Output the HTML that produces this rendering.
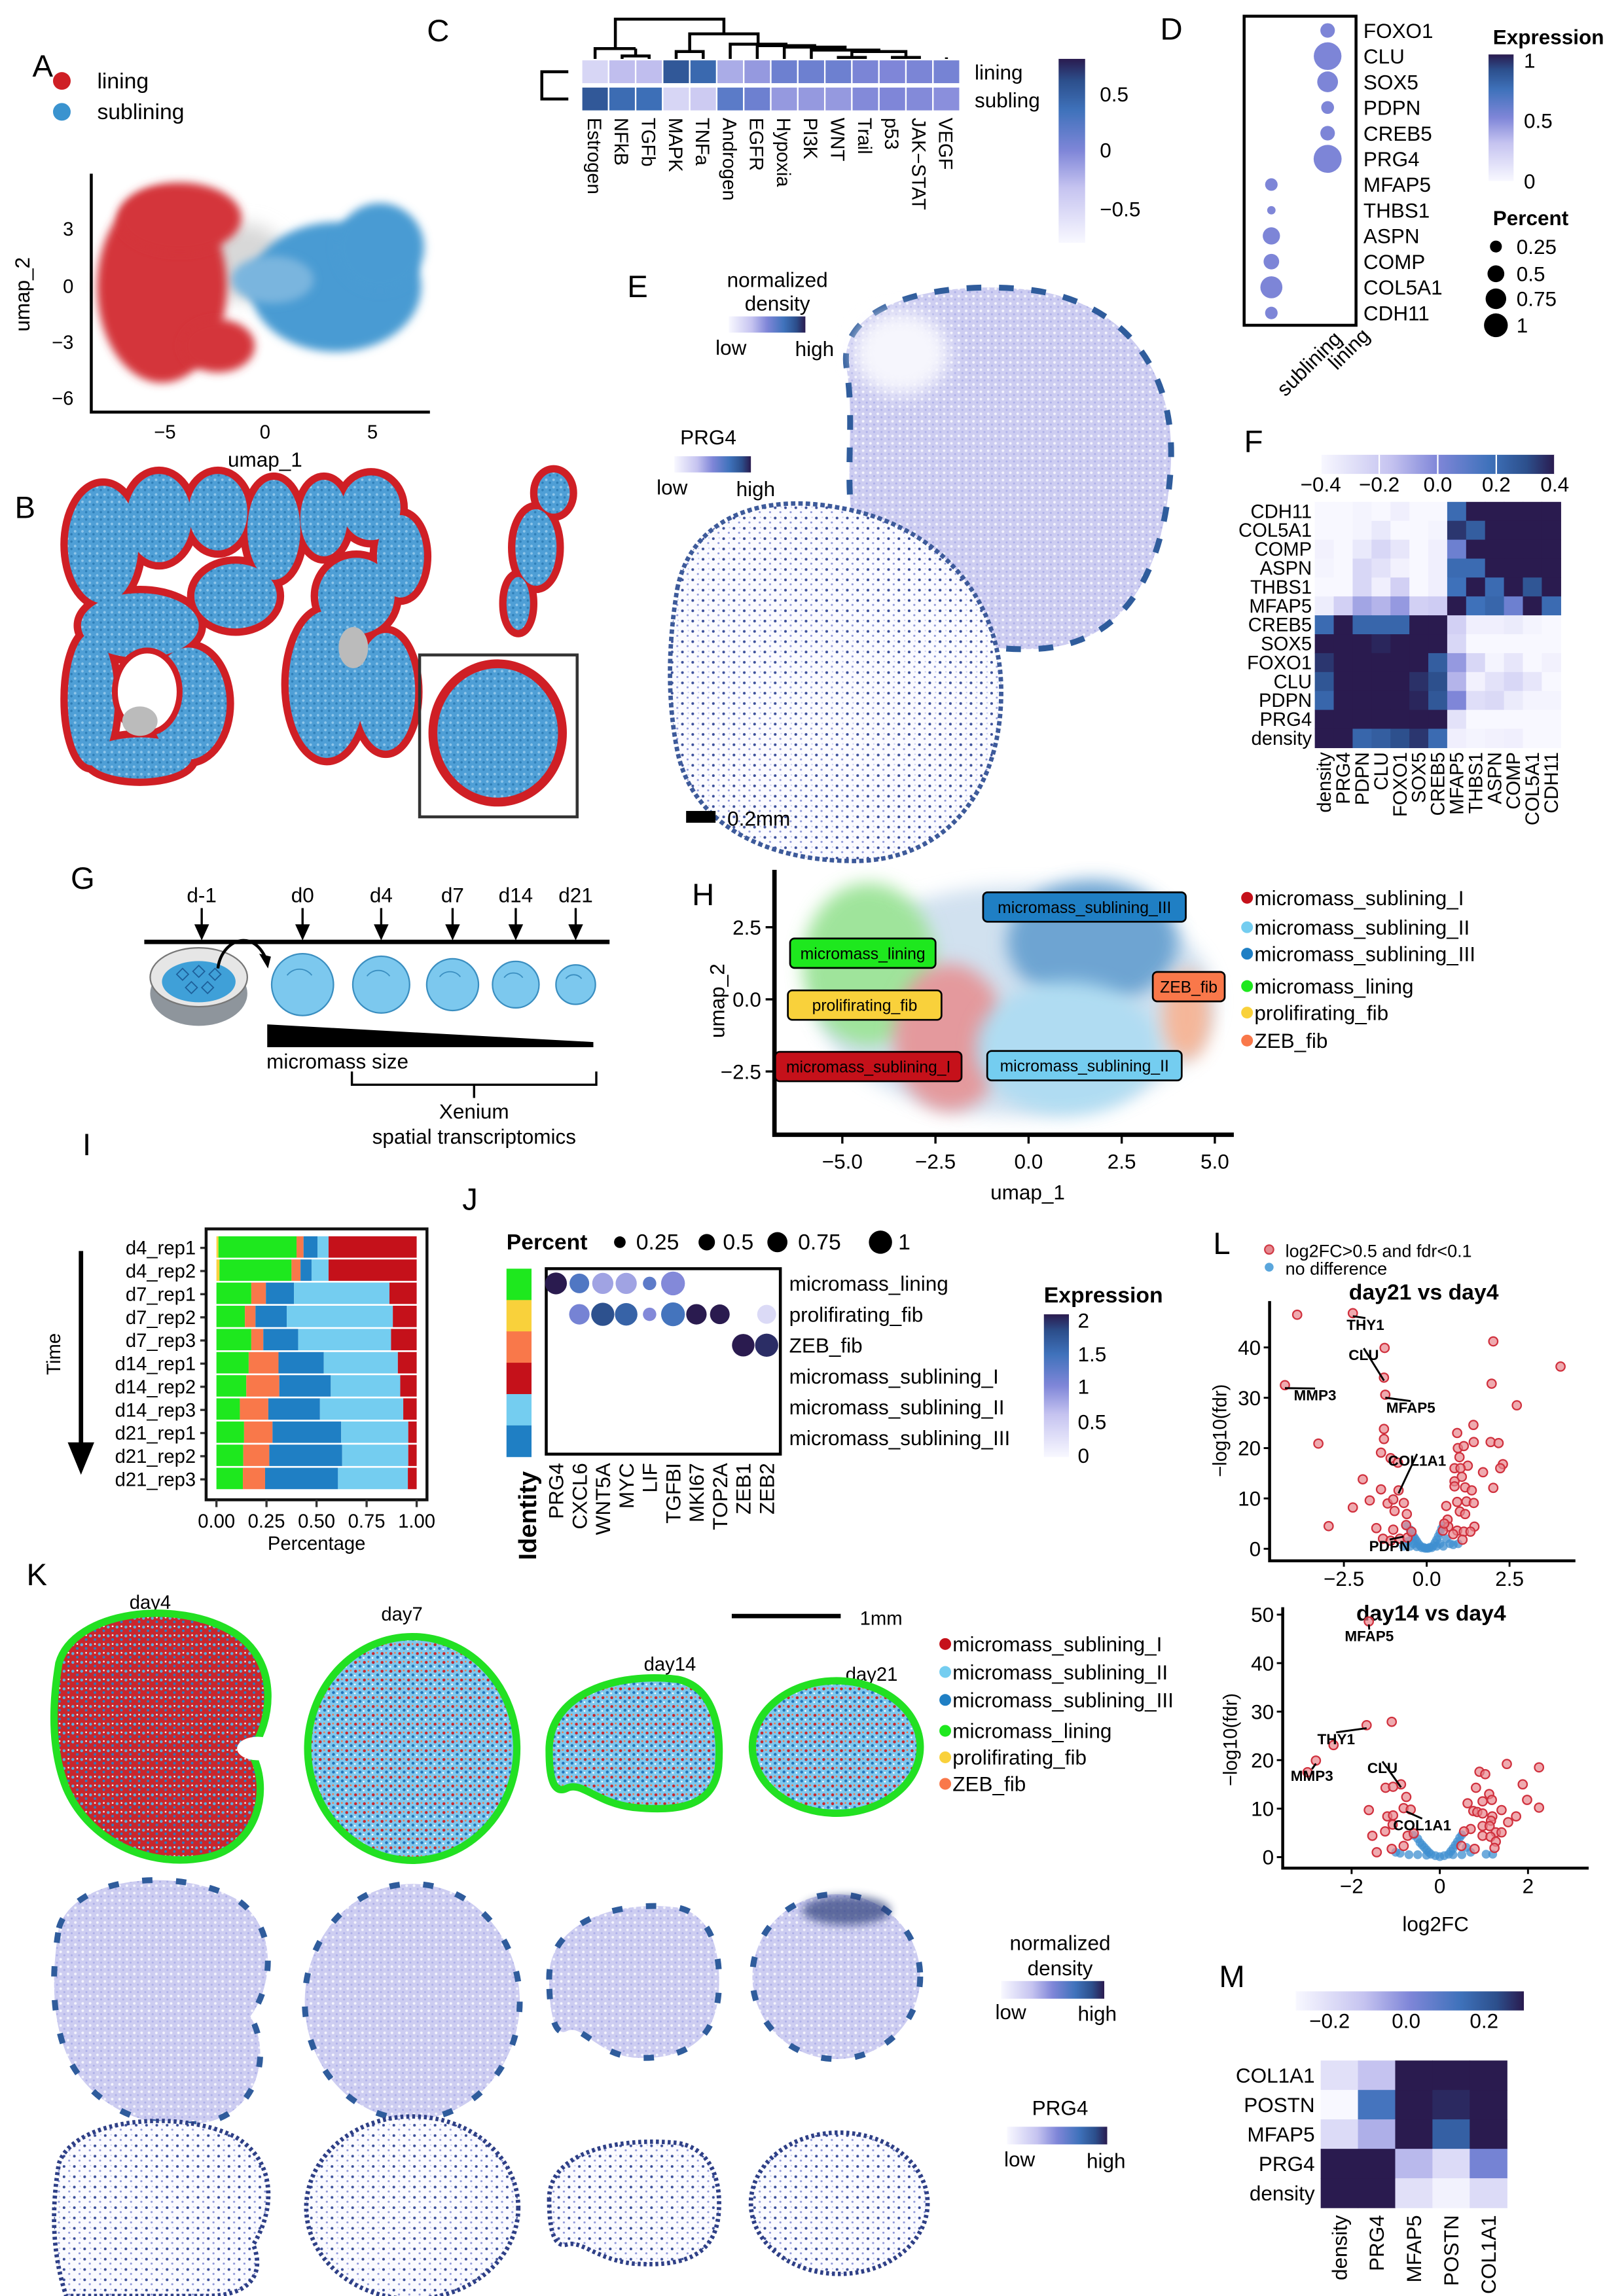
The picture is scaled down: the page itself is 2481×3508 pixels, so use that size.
<!DOCTYPE html>
<html><head><meta charset="utf-8"><title>Figure</title>
<style>
html,body{margin:0;padding:0;background:#fff}
svg{display:block;font-family:"Liberation Sans",Arial,sans-serif}
</style></head>
<body>
<svg id="fig" xmlns="http://www.w3.org/2000/svg" width="2481" height="3508" viewBox="0 0 1103 1560" preserveAspectRatio="none">
<defs>
  <filter id="blur6" x="-30%" y="-30%" width="160%" height="160%"><feGaussianBlur stdDeviation="6"/></filter>
  <filter id="blur3" x="-30%" y="-30%" width="160%" height="160%"><feGaussianBlur stdDeviation="3"/></filter>
  <pattern id="patBlue" width="5" height="5" patternUnits="userSpaceOnUse"><rect width="5" height="5" fill="#4f9fd6"/><circle cx="1" cy="1" r="0.9" fill="#8fc6ea"/><circle cx="3.5" cy="3" r="0.8" fill="#2f7fb8"/></pattern>
  <pattern id="patK4" width="6" height="6" patternUnits="userSpaceOnUse"><rect width="6" height="6" fill="#c9262c"/><circle cx="1.5" cy="1.5" r="1" fill="#5aaee0"/><circle cx="4.5" cy="4" r="0.9" fill="#2c7cc0"/><circle cx="4.5" cy="1" r="0.6" fill="#f5f5f5"/></pattern>
  <pattern id="patK" width="6" height="6" patternUnits="userSpaceOnUse"><rect width="6" height="6" fill="#7ec8ee"/><circle cx="1.5" cy="1.5" r="1" fill="#c9262c"/><circle cx="4.5" cy="4" r="1" fill="#2573b8"/><circle cx="4.2" cy="1" r="0.6" fill="#f47a4a"/><circle cx="1" cy="4.5" r="0.6" fill="#fff"/></pattern>
  <pattern id="patDens" width="5" height="5" patternUnits="userSpaceOnUse"><rect width="5" height="5" fill="#cdcdf1"/><circle cx="1.2" cy="1.2" r="0.9" fill="#f4f4fd"/><circle cx="3.7" cy="3.5" r="0.7" fill="#aeb0e8"/></pattern>
  <pattern id="patPRG" width="7" height="7" patternUnits="userSpaceOnUse"><rect width="7" height="7" fill="#fbfbff"/><circle cx="1.5" cy="2" r="0.9" fill="#3b4f9a"/><circle cx="5" cy="5" r="0.7" fill="#8d96d8"/><circle cx="5.5" cy="1.5" r="0.5" fill="#c9cdf0"/></pattern>
  <linearGradient id="gradV" x1="0" y1="1" x2="0" y2="0"><stop offset="0" stop-color="#f8f8ff"/><stop offset="0.3" stop-color="#c5c3f0"/><stop offset="0.5" stop-color="#7f86d8"/><stop offset="0.72" stop-color="#3f72bb"/><stop offset="0.88" stop-color="#2c4f8c"/><stop offset="1" stop-color="#2a1b4f"/></linearGradient>
  <linearGradient id="gradH" x1="0" y1="0" x2="1" y2="0"><stop offset="0" stop-color="#f8f8ff"/><stop offset="0.3" stop-color="#c5c3f0"/><stop offset="0.5" stop-color="#7f86d8"/><stop offset="0.72" stop-color="#3f72bb"/><stop offset="0.88" stop-color="#2c4f8c"/><stop offset="1" stop-color="#2a1b4f"/></linearGradient>
</defs>

<!-- ===== Panel A ===== -->
<g>
  <text x="22" y="52" font-size="21">A</text>
  <circle cx="42" cy="55" r="6" fill="#cf1f25"/>
  <text x="66" y="60" font-size="15">lining</text>
  <circle cx="42" cy="76" r="6" fill="#3a93cf"/>
  <text x="66" y="81" font-size="15">sublining</text>
  <g>
    <ellipse cx="165" cy="178" rx="30" ry="26" fill="#d8d8d8" filter="url(#blur6)"/>
    <ellipse cx="228" cy="195" rx="58" ry="44" fill="#4a9bd3" filter="url(#blur3)"/>
    <ellipse cx="258" cy="168" rx="30" ry="30" fill="#4a9bd3" filter="url(#blur3)"/>
    <ellipse cx="185" cy="190" rx="28" ry="16" fill="#7ab5de" filter="url(#blur3)"/>
    <ellipse cx="110" cy="195" rx="44" ry="65" fill="#d4343a" filter="url(#blur3)"/>
    <ellipse cx="122" cy="148" rx="42" ry="24" fill="#d4343a" filter="url(#blur3)"/>
    <ellipse cx="148" cy="235" rx="25" ry="18" fill="#d4343a" filter="url(#blur3)"/>
  </g>
  <path d="M62,118 V280 H292" fill="none" stroke="#000" stroke-width="2"/>
  <g font-size="13" text-anchor="end">
    <text x="50" y="160">3</text><text x="50" y="199">0</text><text x="50" y="237">−3</text><text x="50" y="275">−6</text>
  </g>
  <g font-size="13" text-anchor="middle">
    <text x="112" y="298">−5</text><text x="180" y="298">0</text><text x="253" y="298">5</text>
  </g>
  <text x="180" y="317" font-size="14" text-anchor="middle">umap_1</text>
  <text transform="translate(20,200) rotate(-90)" font-size="14" text-anchor="middle">umap_2</text>
</g>

<!-- ===== Panel B ===== -->
<g>
  <text x="10" y="352" font-size="21">B</text>
  <g>
    <g stroke="#cf1f25" stroke-width="10" fill="#cf1f25">
      <ellipse cx="70" cy="370" rx="24" ry="40"/><ellipse cx="108" cy="352" rx="22" ry="30"/><ellipse cx="148" cy="348" rx="20" ry="26"/><ellipse cx="186" cy="360" rx="18" ry="34"/><ellipse cx="160" cy="405" rx="28" ry="22"/><ellipse cx="95" cy="425" rx="40" ry="22"/><ellipse cx="62" cy="475" rx="16" ry="45"/><ellipse cx="128" cy="478" rx="26" ry="38"/><ellipse cx="95" cy="515" rx="35" ry="14"/>
      <ellipse cx="220" cy="352" rx="16" ry="26"/><ellipse cx="252" cy="345" rx="20" ry="22"/><ellipse cx="272" cy="378" rx="16" ry="28"/><ellipse cx="242" cy="405" rx="26" ry="26"/><ellipse cx="222" cy="465" rx="26" ry="50"/><ellipse cx="262" cy="470" rx="20" ry="40"/>
      <ellipse cx="376" cy="335" rx="11" ry="14"/><ellipse cx="364" cy="372" rx="14" ry="26"/><ellipse cx="352" cy="410" rx="8" ry="18"/>
    </g>
    <g fill="url(#patBlue)">
      <ellipse cx="70" cy="370" rx="24" ry="40"/><ellipse cx="108" cy="352" rx="22" ry="30"/><ellipse cx="148" cy="348" rx="20" ry="26"/><ellipse cx="186" cy="360" rx="18" ry="34"/><ellipse cx="160" cy="405" rx="28" ry="22"/><ellipse cx="95" cy="425" rx="40" ry="22"/><ellipse cx="62" cy="475" rx="16" ry="45"/><ellipse cx="128" cy="478" rx="26" ry="38"/><ellipse cx="95" cy="515" rx="35" ry="14"/>
      <ellipse cx="220" cy="352" rx="16" ry="26"/><ellipse cx="252" cy="345" rx="20" ry="22"/><ellipse cx="272" cy="378" rx="16" ry="28"/><ellipse cx="242" cy="405" rx="26" ry="26"/><ellipse cx="222" cy="465" rx="26" ry="50"/><ellipse cx="262" cy="470" rx="20" ry="40"/>
      <ellipse cx="376" cy="335" rx="11" ry="14"/><ellipse cx="364" cy="372" rx="14" ry="26"/><ellipse cx="352" cy="410" rx="8" ry="18"/>
    </g>
    <ellipse cx="100" cy="470" rx="22" ry="28" fill="#fff" stroke="#cf1f25" stroke-width="4"/>
    <ellipse cx="95" cy="490" rx="12" ry="10" fill="#bbb"/>
    <ellipse cx="240" cy="440" rx="10" ry="14" fill="#bbb"/>
  </g>
  <rect x="285" y="445" width="107" height="110" fill="none" stroke="#333" stroke-width="2"/>
  <ellipse cx="338" cy="498" rx="44" ry="47" fill="url(#patBlue)" stroke="#cf1f25" stroke-width="6"/>
</g>

<!-- ===== Panel C ===== -->
<g id="panelC">
  <text x="290" y="28" font-size="21">C</text>
  <text x="662" y="54" font-size="14">lining</text>
  <text x="662" y="73" font-size="14">subling</text>
  <rect x="719" y="40" width="18" height="125" fill="url(#gradV)"/>
  <g font-size="14">
    <text x="747" y="69">0.5</text><text x="747" y="107">0</text><text x="747" y="147">−0.5</text>
  </g>
  <path d="M386,48.75 H368 V67.25 H386" fill="none" stroke="#000" stroke-width="2"/>
</g>

<!-- ===== Panel D ===== -->
<g id="panelD">
  <text x="788" y="27" font-size="21">D</text>
  <rect x="845" y="11" width="76" height="210" fill="none" stroke="#000" stroke-width="2"/>
  <text x="1014" y="30" font-size="14" font-weight="bold">Expression</text>
  <rect x="1011" y="37" width="17" height="86" fill="url(#gradV)"/>
  <g font-size="14"><text x="1035" y="46">1</text><text x="1035" y="87">0.5</text><text x="1035" y="128">0</text></g>
  <text x="1014" y="153" font-size="14" font-weight="bold">Percent</text>
  <text transform="translate(873,270) rotate(-45)" font-size="14">sublining</text>
  <text transform="translate(908,252) rotate(-45)" font-size="14">lining</text>
</g>

<!-- ===== Panel E ===== -->
<g>
  <text x="426" y="202" font-size="21">E</text>
  <text x="528" y="195" font-size="14" text-anchor="middle">normalized</text>
  <text x="528" y="211" font-size="14" text-anchor="middle">density</text>
  <rect x="495" y="215" width="52" height="11" fill="url(#gradH)"/>
  <text x="486" y="241" font-size="14">low</text>
  <text x="540" y="242" font-size="14">high</text>
  <path d="M575,250 C568,205 640,190 700,197 C762,205 800,250 795,320 C790,392 762,440 700,441 C640,443 590,412 580,362 C573,322 581,290 575,250 Z" fill="url(#patDens)" stroke="#2f5c9c" stroke-width="4" stroke-dasharray="10 12"/>
  <ellipse cx="612" cy="240" rx="32" ry="28" fill="#f6f6fd" filter="url(#blur6)"/>
  <text x="462" y="302" font-size="14">PRG4</text>
  <rect x="458" y="310" width="52" height="11" fill="url(#gradH)"/>
  <text x="446" y="336" font-size="14">low</text>
  <text x="500" y="337" font-size="14">high</text>
  <path d="M460,400 C470,350 520,335 570,345 C630,355 680,400 680,470 C680,540 640,585 580,585 C520,585 470,560 460,510 C452,470 455,430 460,400 Z" fill="url(#patPRG)" stroke="#3d5a9a" stroke-width="3" stroke-dasharray="3 2"/>
  <rect x="466" y="551" width="20" height="8" fill="#000"/>
  <text x="494" y="561" font-size="14">0.2mm</text>
</g>

<!-- ===== Panel F ===== -->
<g id="panelF">
  <text x="845" y="307" font-size="21">F</text>
  <rect x="897" y="309" width="159" height="13" fill="url(#gradH)"/>
</g>

<!-- ===== Panel G ===== -->
<g>
  <text x="48" y="604" font-size="21">G</text>
  <line x1="98" y1="640" x2="414" y2="640" stroke="#000" stroke-width="3"/>
  <g id="gArrows"></g>
  <g>
    <ellipse cx="135" cy="675" rx="33" ry="22" fill="#8e959c"/>
    <ellipse cx="135" cy="664" rx="33" ry="20" fill="#e6e6e6" stroke="#777" stroke-width="1"/>
    <ellipse cx="135" cy="667" rx="25" ry="14" fill="#3fa0d8"/>
    <g fill="none" stroke="#1d5f9a" stroke-width="0.8">
      <path d="M120,662 l4,-4 l4,4 l-4,4z"/><path d="M131,660 l4,-4 l4,4 l-4,4z"/><path d="M142,662 l4,-4 l4,4 l-4,4z"/><path d="M126,671 l4,-4 l4,4 l-4,4z"/><path d="M137,671 l4,-4 l4,4 l-4,4z"/>
    </g>
  </g>
  <path d="M148,658 C150,640 170,630 180,650" fill="none" stroke="#000" stroke-width="2"/>
  <path d="M176,648 l8,2 l-2,8 z" fill="#000"/>
  <g id="gMicro"></g>
  <path d="M181.5,696 L403,708 L403,711.5 L181.5,711.5 Z" fill="#000"/>
  <text x="181" y="726" font-size="14">micromass size</text>
  <path d="M239,728 V737 H405 V728 M322,737 V746" fill="none" stroke="#000" stroke-width="1.5"/>
  <text x="322" y="760" font-size="14" text-anchor="middle">Xenium</text>
  <text x="322" y="777" font-size="14" text-anchor="middle">spatial transcriptomics</text>
</g>

<!-- ===== Panel H ===== -->
<g id="panelH">
  <text x="470" y="615" font-size="21">H</text>
  <g opacity="0.85">
    <ellipse cx="690" cy="680" rx="135" ry="78" fill="#c9dced" filter="url(#blur6)"/>
    <ellipse cx="590" cy="655" rx="45" ry="55" fill="#8fe08a" filter="url(#blur6)"/>
    <ellipse cx="645" cy="705" rx="38" ry="50" fill="#e0888c" filter="url(#blur6)"/>
    <ellipse cx="742" cy="640" rx="58" ry="42" fill="#5595cb" filter="url(#blur6)"/>
    <ellipse cx="725" cy="712" rx="62" ry="45" fill="#a3d7f0" filter="url(#blur6)"/>
    <ellipse cx="806" cy="690" rx="16" ry="30" fill="#f4aa88" filter="url(#blur6)"/>
  </g>
  <path d="M526,591 V771 H838" fill="none" stroke="#000" stroke-width="3"/>
  <text x="698" y="815" font-size="14" text-anchor="middle">umap_1</text>
  <text transform="translate(492,680) rotate(-90)" font-size="14" text-anchor="middle">umap_2</text>
</g>

<!-- ===== Panel I ===== -->
<g id="panelI">
  <text x="56" y="785" font-size="21">I</text>
  <line x1="55" y1="850" x2="55" y2="985" stroke="#000" stroke-width="3"/>
  <path d="M46,980 L64,980 L55,1002 Z" fill="#000"/>
  <text transform="translate(41,920) rotate(-90)" font-size="13" text-anchor="middle">Time</text>
  <text x="215" y="1053" font-size="13" text-anchor="middle">Percentage</text>
</g>

<!-- ===== Panel J ===== -->
<g id="panelJ">
  <text x="314" y="822" font-size="21">J</text>
  <text x="344" y="849" font-size="15" font-weight="bold">Percent</text>
  <rect x="371" y="862" width="159" height="126" fill="none" stroke="#000" stroke-width="2"/>
  <text transform="translate(364,1060) rotate(-90)" font-size="17" font-weight="bold">Identity</text>
  <text x="709" y="885" font-size="15" font-weight="bold">Expression</text>
  <rect x="709" y="893" width="17" height="97" fill="url(#gradV)"/>
  <g font-size="14"><text x="732" y="902">2</text><text x="732" y="925">1.5</text><text x="732" y="947">1</text><text x="732" y="971">0.5</text><text x="732" y="994">0</text></g>
</g>

<!-- ===== Panel L ===== -->
<g id="panelL">
  <text x="824" y="852" font-size="21">L</text>
  <circle cx="862" cy="849" r="3" fill="#e58a90" stroke="#d03a45"/>
  <text x="873" y="854" font-size="12">log2FC&gt;0.5 and fdr&lt;0.1</text>
  <circle cx="862" cy="861" r="3" fill="#5aa6dc"/>
  <text x="873" y="866" font-size="12">no difference</text>
  <text x="967" y="883" font-size="15" font-weight="bold" text-anchor="middle">day21 vs day4</text>
  <text x="972" y="1101" font-size="15" font-weight="bold" text-anchor="middle">day14 vs day4</text>
  <text transform="translate(833,972) rotate(-90)" font-size="13" text-anchor="middle">−log10(fdr)</text>
  <text transform="translate(840,1182) rotate(-90)" font-size="13" text-anchor="middle">−log10(fdr)</text>
  <text x="975" y="1312" font-size="14" text-anchor="middle">log2FC</text>
</g>

<!-- ===== Panel K ===== -->
<g>
  <text x="18" y="1077" font-size="21">K</text>
  <text x="102" y="1093" font-size="13" text-anchor="middle">day4</text>
  <text x="273" y="1101" font-size="13" text-anchor="middle">day7</text>
  <text x="455" y="1135" font-size="13" text-anchor="middle">day14</text>
  <text x="592" y="1142" font-size="13" text-anchor="middle">day21</text>
  <line x1="497" y1="1098" x2="571" y2="1098" stroke="#000" stroke-width="3"/>
  <text x="584" y="1104" font-size="13">1mm</text>
  <g stroke="#22e022" stroke-width="5">
    <path d="M40,1130 C50,1095 120,1085 160,1110 C190,1130 185,1170 170,1190 C185,1215 175,1255 140,1262 C100,1270 60,1250 45,1215 C35,1190 35,1160 40,1130 Z" fill="url(#patK4)"/>
    <ellipse cx="280" cy="1188" rx="71" ry="76" fill="url(#patK)"/>
    <path d="M373,1190 C372,1150 420,1136 460,1141 C485,1146 490,1175 488,1200 C485,1228 460,1231 430,1228 C405,1225 395,1210 385,1215 C375,1220 373,1205 373,1190 Z" fill="url(#patK)"/>
    <ellipse cx="568" cy="1187" rx="57" ry="45" fill="url(#patK)"/>
  </g>
  <ellipse cx="175" cy="1188" rx="14" ry="8" fill="#fff"/>
  <g stroke="#2f5c9c" stroke-width="4" stroke-dasharray="7 16" fill="url(#patDens)">
    <path d="M40,1310 C50,1275 120,1268 160,1290 C190,1310 185,1350 170,1370 C185,1395 175,1435 140,1442 C100,1450 60,1430 45,1395 C35,1370 35,1340 40,1310 Z"/>
    <ellipse cx="280" cy="1360" rx="73" ry="80"/>
    <path d="M373,1345 C372,1305 420,1291 460,1296 C485,1301 490,1330 488,1355 C485,1390 460,1400 430,1398 C405,1395 395,1375 385,1380 C375,1385 373,1360 373,1345 Z"/>
    <ellipse cx="568" cy="1343" rx="57" ry="56"/>
  </g>
  <ellipse cx="575" cy="1298" rx="30" ry="10" fill="#2d3f7c" opacity="0.7" filter="url(#blur3)"/>
  <g stroke="#2e3f86" stroke-width="3" stroke-dasharray="2 2" fill="url(#patPRG)">
    <path d="M40,1470 C50,1440 120,1432 160,1452 C190,1470 185,1505 172,1525 C180,1545 170,1560 140,1560 L45,1560 C35,1530 35,1500 40,1470 Z"/>
    <ellipse cx="280" cy="1500" rx="72" ry="62"/>
    <path d="M373,1495 C372,1462 420,1452 460,1456 C485,1460 490,1485 488,1505 C485,1535 460,1540 430,1538 C405,1535 395,1522 385,1525 C375,1528 373,1510 373,1495 Z"/>
    <ellipse cx="570" cy="1497" rx="60" ry="48"/>
  </g>
  <g id="kLegend"></g>
  <text x="720" y="1325" font-size="14" text-anchor="middle">normalized</text>
  <text x="720" y="1342" font-size="14" text-anchor="middle">density</text>
  <rect x="680" y="1346" width="70" height="12" fill="url(#gradH)"/>
  <text x="676" y="1372" font-size="14">low</text>
  <text x="732" y="1373" font-size="14">high</text>
  <text x="720" y="1437" font-size="14" text-anchor="middle">PRG4</text>
  <rect x="684" y="1445" width="68" height="12" fill="url(#gradH)"/>
  <text x="682" y="1472" font-size="14">low</text>
  <text x="738" y="1473" font-size="14">high</text>
</g>

<!-- ===== Panel M ===== -->
<g id="panelM">
  <text x="828" y="1350" font-size="21">M</text>
  <rect x="880" y="1353" width="155" height="13" fill="url(#gradH)"/>
  <g font-size="14" text-anchor="middle"><text x="903" y="1378">−0.2</text><text x="955" y="1378">0.0</text><text x="1008" y="1378">0.2</text></g>
</g>
</svg>

<script>
// ---------- data ----------
const cPathways=['Estrogen','NFkB','TGFb','MAPK','TNFa','Androgen','EGFR','Hypoxia','PI3K','WNT','Trail','p53','JAK−STAT','VEGF'];
const cLining=[-0.5,-0.3,-0.3,0.55,0.42,-0.2,-0.1,0.1,0.1,0.1,0.02,0.0,0.02,0.05];
const cSubling=[0.55,0.4,0.38,-0.5,-0.4,0.2,0.1,-0.1,-0.1,-0.1,-0.02,0.0,-0.02,-0.05];

const dGenes=['FOXO1','CLU','SOX5','PDPN','CREB5','PRG4','MFAP5','THBS1','ASPN','COMP','COL5A1','CDH11'];
const dGroups=['sublining','lining'];
const dPctSublining=[0,0,0,0,0,0,0.2,0.09,0.38,0.31,0.62,0.2];
const dPctLining=[0.27,0.98,0.55,0.21,0.27,1.0,0,0,0,0,0,0];
const dExprSublining=[0,0,0,0,0,0,0.52,0.5,0.52,0.52,0.52,0.52];
const dExprLining=[0.52,0.52,0.52,0.52,0.52,0.52,0,0,0,0,0,0];
const dLegendPct=[0.25,0.5,0.75,1];

const fGenes=['density','PRG4','PDPN','CLU','FOXO1','SOX5','CREB5','MFAP5','THBS1','ASPN','COMP','COL5A1','CDH11'];
const fRowsTopDown=['CDH11','COL5A1','COMP','ASPN','THBS1','MFAP5','CREB5','SOX5','FOXO1','CLU','PDPN','PRG4','density'];
const fCorr=[
[-.4,-.4,-.38,-.4,-.36,-.4,-.4,.2,.4,.4,.4,.4,.4],
[-.4,-.4,-.38,-.33,-.4,-.4,-.38,.35,.25,.4,.4,.4,.4],
[-.37,-.4,-.33,-.25,-.32,-.4,-.36,.05,.4,.4,.4,.4,.4],
[-.38,-.4,-.25,-.3,-.37,-.4,-.36,.2,.2,.4,.4,.4,.4],
[-.4,-.4,-.25,-.36,-.22,-.4,-.36,.18,.4,.2,.4,.28,.4],
[-.35,-.22,-.08,-.12,-.05,-.22,-.2,.4,.18,.22,.05,.4,.2],
[.2,.4,.22,.22,.22,.4,.4,-.22,-.36,-.36,-.34,-.38,-.4],
[.4,.4,.4,.38,.4,.4,.4,-.25,-.4,-.4,-.4,-.4,-.4],
[.35,.4,.4,.4,.4,.4,.25,-.05,-.25,-.38,-.32,-.4,-.37],
[.28,.4,.4,.4,.4,.36,.3,-.12,-.37,-.3,-.25,-.32,-.4],
[.22,.4,.4,.4,.4,.38,.27,.0,-.28,-.26,-.34,-.38,-.38],
[.4,.4,.4,.4,.4,.4,.4,-.3,-.4,-.4,-.4,-.4,-.4],
[.4,.4,.22,.25,.3,.35,.2,-.36,-.38,-.37,-.36,-.4,-.4]];
const fTicks=[-0.4,-0.2,0.0,0.2,0.4];

const gTimepoints=['d-1','d0','d4','d7','d14','d21'];
const gMicroRadius=[21,19.3,17.6,15.8,13.4];

const hXTicks=[-5.0,-2.5,0.0,2.5,5.0];
const hYTicks=[2.5,0.0,-2.5];
const hClusters=['micromass_sublining_I','micromass_sublining_II','micromass_sublining_III','micromass_lining','prolifirating_fib','ZEB_fib'];
const hClusterColors=['#c5111a','#74cdf0','#1f7fc4','#1ee81e','#f9d13b','#f9784a'];
const hLabelX=[-4.3,1.5,1.5,-4.45,-4.4,4.3];
const hLabelY=[-2.33,-2.3,3.2,1.6,-0.2,0.44];

const iSamples=['d4_rep1','d4_rep2','d7_rep1','d7_rep2','d7_rep3','d14_rep1','d14_rep2','d14_rep3','d21_rep1','d21_rep2','d21_rep3'];
const iProlif=[0.01,0.015,0,0,0,0,0,0,0,0,0];
const iLining=[0.39,0.36,0.174,0.142,0.174,0.161,0.149,0.117,0.138,0.134,0.132];
const iZeb=[0.035,0.045,0.073,0.053,0.06,0.149,0.165,0.142,0.142,0.13,0.111];
const iSubIII=[0.07,0.055,0.14,0.156,0.174,0.226,0.257,0.258,0.343,0.364,0.364];
const iSubII=[0.055,0.085,0.477,0.53,0.464,0.37,0.347,0.416,0.335,0.33,0.349];
const iSubI=[0.44,0.44,0.136,0.119,0.128,0.094,0.082,0.067,0.042,0.042,0.044];
const iXTicks=[0,0.25,0.5,0.75,1.0];
const iXTickLabels=['0.00','0.25','0.50','0.75','1.00'];

const jGenes=['PRG4','CXCL6','WNT5A','MYC','LIF','TGFBI','MKI67','TOP2A','ZEB1','ZEB2'];
const jIdent=['micromass_lining','prolifirating_fib','ZEB_fib','micromass_sublining_I','micromass_sublining_II','micromass_sublining_III'];
const jIdentColors=['#1ee81e','#f9d13b','#f9784a','#c5111a','#74cdf0','#1f7fc4'];
const jPct=[
[0.8,0.65,0.75,0.75,0.3,0.95,0,0,0,0],
[0,0.7,0.9,0.85,0.3,0.95,0.7,0.65,0,0.6],
[0,0,0,0,0,0,0,0,0.85,0.9],
[0,0,0,0,0,0,0,0,0,0],[0,0,0,0,0,0,0,0,0,0],[0,0,0,0,0,0,0,0,0,0]];
const jExpr=[
[2.0,1.2,0.6,0.6,1.1,0.8,0,0,0,0],
[0,0.9,1.7,1.5,0.8,1.3,2.0,2.0,0,0.05],
[0,0,0,0,0,0,0,0,2.0,1.9],
[0,0,0,0,0,0,0,0,0,0],[0,0,0,0,0,0,0,0,0,0],[0,0,0,0,0,0,0,0,0,0]];
const jLegendPct=[0.25,0.5,0.75,1];

const l21SigX=[-3.91,-2.23,-1.27,-1.29,-4.28,-1.25,-3.27,-1.29,-1.29,-1.38,-1.09,-0.87,-1.93,-1.38,-0.85,-1.72,-2.23,-2.96,-1.18,-1.01,-0.69,-0.97,-0.6,-1.52,-1.01,-1.32,-0.62,-0.81,-1.09,-0.58,-0.46,2.01,4.04,1.96,2.72,1.41,0.92,1.42,1.93,2.17,0.94,1.12,0.99,0.84,1.24,1.02,2.3,2.22,1.7,1.06,0.84,0.84,1.16,1.36,2.01,0.92,1.2,1.42,1.0,0.59,1.16,0.63,1.44,0.92,1.12,1.32,0.65,0.49,0.8,1.08,0.53];
const l21SigY=[46.5,46.8,39.9,34,32.5,30.6,20.9,23.8,21.8,19.1,18,17.1,13.8,11.8,11.6,9.6,8.2,4.5,9,9.8,9.1,7.5,6.9,4.1,3.8,2,4.7,2,1.6,2.2,3.4,41.2,36.2,32.8,28.5,24.6,23,21.2,21.2,21,20,20.4,18.2,16,16.5,16,16.8,16,15.2,14.3,13.4,12.4,12.2,11.6,12.1,9.3,9.4,9.1,7.4,8.5,6.9,5.8,4.4,3.6,3.4,3.4,4.4,3.6,2.9,1.8,5];
const l21NsX=[-0.6,-0.5,-0.45,-0.4,-0.35,-0.3,-0.25,-0.2,-0.1,0,0.1,0.2,0.25,0.3,0.35,0.4,0.45,0.5,0.3,-0.3,0.5,-0.5,0.7,0.8,0.95,-0.7,0.6,-0.55,-0.15,0.15,-0.4,0.4,0.05,-0.05];
const l21NsY=[4.5,3.8,3,2.5,2,1.5,1,0.6,0.3,0.1,0.3,0.6,1.2,1.8,2.5,3.2,4,4.6,0.5,0.4,0.5,0.5,1,0.8,1,0.5,2,1.5,0.2,0.2,1,1,0.1,0.1];
const l21Labels=['THY1','CLU','MMP3','MFAP5','COL1A1','PDPN'];
const l21LabelX=[-1.85,-1.9,-3.37,-0.48,-0.29,-1.12];
const l21LabelY=[43.5,37.5,29.5,27,16.5,-0.5];
const l21PtX=[-2.23,-1.29,-4.28,-1.25,-0.85,-0.7];
const l21PtY=[46.8,34,32.5,30.6,11.6,3];

const l14SigX=[-1.61,-1.66,-1.09,-2.41,-2.81,-3.0,-0.88,-1.23,-1.06,-0.76,-1.61,-0.82,-0.66,-1.19,-1.06,-1.07,-1.24,-1.53,-0.73,-0.59,-1.43,-1.09,-0.82,1.52,2.25,0.9,1.03,1.88,0.82,1.12,1.18,0.97,1.98,0.63,2.25,0.76,0.85,0.97,1.4,1.19,1.73,1.16,1.55,0.97,1.13,1.27,1.4,0.97,1.15,0.7,0.55,1.27,1.24,0.79,0.49];
const l14SigY=[48.6,27.2,27.9,23.1,19.9,17.5,15,14.3,14.5,12.4,9.7,10.1,9.8,8.4,8.6,6.7,5.3,4.4,4.4,4.9,1,1.7,2.3,19.2,18.5,17.6,17.1,15,14.3,13,11.8,11.5,11.8,11.1,10.2,9.5,9.3,9,9.7,8.4,8.4,7.5,7.2,6.4,6.4,5.1,5.1,4.4,4.2,5.8,5.3,3.2,1.9,1.7,2.3];
const l14NsX=[-0.6,-0.5,-0.45,-0.4,-0.35,-0.3,-0.25,-0.2,-0.1,0,0.1,0.2,0.25,0.3,0.35,0.4,0.45,0.5,0.3,-0.3,0.5,-0.5,0.7,-0.7,1.05,1.2,-0.9,0.6,-1.0];
const l14NsY=[4.5,3.8,3,2.5,2,1.5,1,0.6,0.3,0.1,0.3,0.6,1.2,1.8,2.5,3.2,4,4.6,0.5,0.4,0.5,0.5,1,0.5,0.6,0.6,0.8,2,1];
const l14Labels=['MFAP5','THY1','MMP3','CLU','COL1A1'];
const l14LabelX=[-1.6,-2.35,-2.9,-1.3,-0.4];
const l14LabelY=[44.5,23.3,15.7,17.3,5.5];
const l14PtX=[-1.61,-1.66,-2.81,-0.88,-0.76];
const l14PtY=[48.6,27.2,19.9,15,10];

const kLegendLabels=['micromass_sublining_I','micromass_sublining_II','micromass_sublining_III','micromass_lining','prolifirating_fib','ZEB_fib'];
const kLegendColors=['#c5111a','#74cdf0','#1f7fc4','#1ee81e','#f9d13b','#f9784a'];

const mGenes=['density','PRG4','MFAP5','POSTN','COL1A1'];
const mRowsTopDown=['COL1A1','POSTN','MFAP5','PRG4','density'];
const mCorr=[
[-0.22,-0.12,0.3,0.3,0.3],
[-0.3,0.12,0.3,0.28,0.3],
[-0.2,-0.08,0.3,0.18,0.3],
[0.3,0.3,-0.1,-0.2,0.02],
[0.3,0.3,-0.22,-0.28,-0.2]];

// ---------- helpers ----------
const NS='http://www.w3.org/2000/svg';
function el(tag,parent){const e=document.createElementNS(NS,tag);parent.appendChild(e);return e;}
function sa(e,o){for(const k in o)e.setAttribute(k,o[k]);return e;}
const stops=[[0,[248,248,255]],[0.3,[197,195,240]],[0.5,[127,134,216]],[0.72,[63,114,187]],[0.88,[44,79,140]],[1,[42,27,79]]];
function pal(t){t=Math.max(0,Math.min(1,t));for(let i=1;i<stops.length;i++){if(t<=stops[i][0]){const a=stops[i-1],b=stops[i];const f=(t-a[0])/(b[0]-a[0]);const c=a[1].map((v,k)=>Math.round(v+(b[1][k]-v)*f));return 'rgb('+c.join(',')+')';}}return 'rgb(42,27,79)';}
function txt(parent,x,y,s,size,extra){const t=el('text',parent);sa(t,{x:x,y:y,'font-size':size});if(extra)sa(t,extra);t.textContent=s;return t;}

// ---------- Panel C ----------
(function(){
  const g=document.getElementById('panelC');
  const x0=395,w=(652-395)/cPathways.length;
  const cx=i=>x0+w*(i+0.5);
  const col=v=>pal((v+0.81)/1.62);
  const rows=[cLining,cSubling],ys=[40.5,59];
  rows.forEach((vals,r)=>vals.forEach((v,i)=>{
    const c=el('rect',g);sa(c,{x:x0+w*i,y:ys[r],width:w,height:16.5,fill:col(v),stroke:'#fff','stroke-width':1});
    
    
  }));
  cPathways.forEach((p,i)=>{
    const t=txt(g,0,0,p,13,{transform:'translate('+(cx(i)-5)+',80) rotate(90)'});
    
    
  });
  const d=el('path',g);
  const m12=(cx(1)+cx(2))/2, mA=(cx(0)+m12)/2, mB=(cx(3)+cx(4))/2;
  const mC1=(cx(9)+cx(10))/2, mC2=(cx(11)+cx(12))/2, mC3=(mC1+mC2)/2, mC4=(cx(8)+mC3)/2, mC5=(cx(7)+mC4)/2, mC6=(cx(6)+mC5)/2, mC=(cx(5)+mC6)/2, mBC=(mB+mC)/2;
  const path='M'+cx(1)+',40 V38 H'+cx(2)+' V40 M'+m12+',38 V33 M'+cx(0)+',40 V33 H'+m12+
   ' M'+cx(3)+',40 V35 H'+cx(4)+' V40'+
   ' M'+cx(9)+',40 V39 H'+cx(10)+' V40 M'+cx(11)+',40 V39 H'+cx(12)+' V40 M'+mC1+',39 V35 H'+mC2+' V39 M'+cx(13)+',40 V39'+
   ' M'+cx(8)+',40 V34 H'+mC3+' V35 M'+cx(7)+',40 V32 H'+mC4+' V34 M'+cx(6)+',40 V31 H'+mC5+' V32 M'+cx(5)+',40 V30 H'+mC6+' V31'+
   ' M'+mB+',35 V23 H'+mC+' V30 M'+mA+',33 V13 H'+mBC+' V23';
  sa(d,{d:path,fill:'none',stroke:'#000','stroke-width':2});
  
  
})();

// ---------- Panel D ----------
(function(){
  const g=document.getElementById('panelD');
  const yOf=i=>20.7+i*17.45, xs=[863.5,901.7], k=9.5;
  dGenes.forEach((gn,i)=>{
    const t=txt(g,926,yOf(i)+5,gn,14);
    
    
    [[dPctSublining,dExprSublining],[dPctLining,dExprLining]].forEach((arr,j)=>{
      const p=arr[0][i];if(p<=0)return;
      const c=el('circle',g);sa(c,{cx:xs[j],cy:yOf(i),r:k*Math.sqrt(p),fill:pal(0.3+arr[1][i]*0.4)});
      
      
    });
  });
  const ly=[167.5,186,203,221];
  dLegendPct.forEach((p,i)=>{
    const c=el('circle',g);sa(c,{cx:1016,cy:ly[i],r:k*0.85*Math.sqrt(p),fill:'#000'});
    
    
    const t=txt(g,1030,ly[i]+5,String(p),14);
    
    
  });
})();

// ---------- Panel F ----------
(function(){
  const g=document.getElementById('panelF');
  const x0=893,y0=341,s=(1060-893)/13;
  const col=v=>pal((v+0.4)/0.8);
  fCorr.forEach((row,r)=>row.forEach((v,c)=>{
    const e=el('rect',g);sa(e,{x:x0+c*s,y:y0+r*s,width:s+0.3,height:s+0.3,fill:col(v)});
    
    
  }));
  fRowsTopDown.forEach((n,r)=>{
    const t=txt(g,891,y0+r*s+s/2+4.5,n,13,{'text-anchor':'end'});
    
    
  });
  fGenes.forEach((n,c)=>{
    const t=txt(g,0,0,n,13,{'text-anchor':'end',transform:'translate('+(x0+c*s+s/2+4.5)+',511) rotate(-90)'});
    
    
  });
  fTicks.forEach(v=>{
    const x=897+(v+0.4)/0.8*159;
    const l=el('line',g);sa(l,{x1:x,y1:309,x2:x,y2:322,stroke:'#fff','stroke-width':1});
    
    
    const t=txt(g,x,334,(v<0?'−':'')+Math.abs(v).toFixed(1),14,{'text-anchor':'middle'});
    
    
  });
})();

// ---------- Panel G ----------
(function(){
  const ga=document.getElementById('gArrows'),gm=document.getElementById('gMicro');
  const xs=[137,205.5,258.9,307.4,350.3,391];
  gTimepoints.forEach((tp,i)=>{
    const t=txt(ga,xs[i],613,tp,14,{'text-anchor':'middle'});
    
    
    const l=el('line',ga);sa(l,{x1:xs[i],y1:617,x2:xs[i],y2:630,stroke:'#000','stroke-width':1.5});
    
    
    const h=el('path',ga);sa(h,{d:'M'+(xs[i]-5)+',628 L'+(xs[i]+5)+',628 L'+xs[i]+',639 Z',fill:'#000'});
    
    
  });
  gMicroRadius.forEach((r,i)=>{
    const c=el('circle',gm);sa(c,{cx:xs[i+1],cy:669,r:r,fill:'#7cc8ee',stroke:'#3a8ec0','stroke-width':1});
    
    
    const a=el('path',gm);sa(a,{d:'M'+(xs[i+1]-r*0.5)+','+(669-r*0.3)+' a'+(r*0.5)+','+(r*0.5)+' 0 0 1 '+(r*0.8)+',0',fill:'none',stroke:'#3a8ec0','stroke-width':0.8});
    
    
  });
})();

// ---------- Panel H ----------
(function(){
  const g=document.getElementById('panelH');
  const X=v=>698.6+v*25.3, Y=v=>679-v*19.6;
  hXTicks.forEach(v=>{
    const l=el('line',g);sa(l,{x1:X(v),y1:771,x2:X(v),y2:777,stroke:'#000','stroke-width':1.5});
    
    
    const t=txt(g,X(v),794,(v<0?'−':'')+Math.abs(v).toFixed(1),14,{'text-anchor':'middle'});
    
    
  });
  hYTicks.forEach(v=>{
    const l=el('line',g);sa(l,{x1:520,y1:Y(v),x2:526,y2:Y(v),stroke:'#000','stroke-width':1.5});
    
    
    const t=txt(g,517,Y(v)+5,(v<0?'−':'')+Math.abs(v).toFixed(1),14,{'text-anchor':'end'});
    
    
  });
  const ly=[610,630,648,670,688,707];
  hClusters.forEach((n,i)=>{
    const tw=n.length*5.55+10;
    const cx=X(hLabelX[i]),cy=Y(hLabelY[i]);
    const r=el('rect',g);sa(r,{x:cx-tw/2,y:cy-10,width:tw,height:20,rx:3,fill:hClusterColors[i],stroke:'#000','stroke-width':1.2});
    
    
    const t=txt(g,cx,cy+4,n,11,{'text-anchor':'middle'});
    
    
    const d=el('circle',g);sa(d,{cx:847,cy:ly[i],r:4,fill:hClusterColors[i]});
    
    
    const lt=txt(g,852,ly[i]+5,n,14);
    
    
  });
})();

// ---------- Panel I ----------
(function(){
  const g=document.getElementById('panelI');
  const X=v=>147+v*136, rowH=(1013-840)/iSamples.length;
  const series=[iProlif,iLining,iZeb,iSubIII,iSubII,iSubI];
  const cols=['#f9d13b','#1ee81e','#f9784a','#1f7fc4','#74cdf0','#c5111a'];
  const names=['prolifirating_fib','micromass_lining','ZEB_fib','sublining_III','sublining_II','sublining_I'];
  iSamples.forEach((s,r)=>{
    let acc=0;const y=840+r*rowH;
    series.forEach((arr,k)=>{
      const v=arr[r];if(v<=0)return;
      const b=el('rect',g);sa(b,{x:X(acc),y:y,width:X(acc+v)-X(acc),height:rowH-1.2,fill:cols[k]});
      
      
      acc+=v;
    });
    const t=txt(g,133,y+rowH/2+4.5,s,13,{'text-anchor':'end'});
    
    
    const tk=el('line',g);sa(tk,{x1:136,y1:y+rowH/2,x2:140,y2:y+rowH/2,stroke:'#333','stroke-width':1.5});
    
    
  });
  const ax=el('path',g);sa(ax,{d:'M140,835 H290 V1019 H140 Z',fill:'none',stroke:'#111','stroke-width':2});
  
  
  iXTicks.forEach((v,i)=>{
    const l=el('line',g);sa(l,{x1:X(v),y1:1019,x2:X(v),y2:1024,stroke:'#333','stroke-width':1.5});
    
    
    const t=txt(g,X(v),1038,iXTickLabels[i],13,{'text-anchor':'middle'});
    
    
  });
})();

// ---------- Panel J ----------
(function(){
  const g=document.getElementById('panelJ');
  const X=i=>377.6+i*15.9, Y=r=>872+r*21, k=8.3;
  jIdent.forEach((n,r)=>{
    const b=el('rect',g);sa(b,{x:344,y:862+r*21.3,width:17,height:21.5,fill:jIdentColors[r]});
    
    
    const t=txt(g,536,Y(r)+5,n,14);
    
    
    jGenes.forEach((gn,i)=>{
      const p=jPct[r][i];if(p<=0)return;
      const c=el('circle',g);sa(c,{cx:X(i),cy:Y(r),r:k*Math.sqrt(p),fill:pal(0.15+jExpr[r][i]/2*0.85)});
      
      
    });
  });
  jGenes.forEach((gn,i)=>{
    const t=txt(g,0,0,gn,14,{'text-anchor':'end',transform:'translate('+(X(i)+5)+',994) rotate(-90)'});
    
    
  });
  const lx=[421,480,528,598],tx=[432,491,542,610];
  jLegendPct.forEach((p,i)=>{
    const c=el('circle',g);sa(c,{cx:lx[i],cy:844,r:k*Math.sqrt(p)*0.95,fill:'#000'});
    
    
    const t=txt(g,tx[i],849,String(p),15);
    
    
  });
})();

// ---------- Panel L ----------
function volcano(cfg){
  const g=document.getElementById('panelL');
  const X=v=>cfg.x0+v*cfg.sx, Y=v=>cfg.y0-v*cfg.sy;
  cfg.nsX.forEach((x,i)=>{
    const c=el('circle',g);sa(c,{cx:X(x),cy:Y(cfg.nsY[i]),r:3,fill:'#3f8fd0','fill-opacity':0.75});
    
    
  });
  cfg.sigX.forEach((x,i)=>{
    const c=el('circle',g);sa(c,{cx:X(x),cy:Y(cfg.sigY[i]),r:3,fill:'#e8868d','fill-opacity':0.7,stroke:'#d0303d','stroke-width':1});
    
    
  });
  cfg.labels.forEach((n,i)=>{
    const lx=X(cfg.lx[i]),ly=Y(cfg.ly[i]),px=X(cfg.px[i]),py=Y(cfg.py[i]);
    const l=el('line',g);sa(l,{x1:px,y1:py+2,x2:lx,y2:ly-8,stroke:'#000','stroke-width':1.3});
    
    
    const t=txt(g,lx,ly,n,10,{'text-anchor':'middle','font-weight':'bold'});
    
    
  });
  const ax=el('path',g);sa(ax,{d:'M'+cfg.ax+','+cfg.ayTop+' V'+cfg.ay+' H'+cfg.axRight,fill:'none',stroke:'#000','stroke-width':2});
  
  
  cfg.xt.forEach((v,i)=>{
    const l=el('line',g);sa(l,{x1:X(v),y1:cfg.ay,x2:X(v),y2:cfg.ay+4,stroke:'#000','stroke-width':1.3});
    
    
    const t=txt(g,X(v),cfg.ay+17,cfg.xtl[i],14,{'text-anchor':'middle'});
    
    
  });
  cfg.yt.forEach(v=>{
    const l=el('line',g);sa(l,{x1:cfg.ax-4,y1:Y(v),x2:cfg.ax,y2:Y(v),stroke:'#000','stroke-width':1.3});
    
    
    const t=txt(g,cfg.ax-6,Y(v)+5,String(v),14,{'text-anchor':'end'});
    
    
  });
}
volcano({name:'l-day21',x0:969,sx:22.5,y0:1052.3,sy:3.42,ax:862.3,ayTop:884,ay:1060.5,axRight:1070,
  sigX:l21SigX,sigY:l21SigY,nsX:l21NsX,nsY:l21NsY,labels:l21Labels,lx:l21LabelX,ly:l21LabelY,px:l21PtX,py:l21PtY,
  xt:[-2.5,0,2.5],xtl:['−2.5','0.0','2.5'],yt:[0,10,20,30,40]});
volcano({name:'l-day14',x0:977.9,sx:29.95,y0:1261.8,sy:3.295,ax:871.2,ayTop:1092,ay:1269.3,axRight:1079,
  sigX:l14SigX,sigY:l14SigY,nsX:l14NsX,nsY:l14NsY,labels:l14Labels,lx:l14LabelX,ly:l14LabelY,px:l14PtX,py:l14PtY,
  xt:[-2,0,2],xtl:['−2','0','2'],yt:[0,10,20,30,40,50]});

// ---------- Panel K legend ----------
(function(){
  const g=document.getElementById('kLegend');
  const ly=[1117,1136,1155,1176,1194,1212];
  kLegendLabels.forEach((n,i)=>{
    const c=el('circle',g);sa(c,{cx:642,cy:ly[i],r:4,fill:kLegendColors[i]});
    
    
    const t=txt(g,647,ly[i]+5,n,14);
    
    
  });
})();

// ---------- Panel M ----------
(function(){
  const g=document.getElementById('panelM');
  const x0=897,y0=1400,w=25.3,h=20;
  const col=v=>pal((v+0.3)/0.6);
  mCorr.forEach((row,r)=>row.forEach((v,c)=>{
    const e=el('rect',g);sa(e,{x:x0+c*w,y:y0+r*h,width:w+0.3,height:h+0.3,fill:col(v)});
    
    
  }));
  mRowsTopDown.forEach((n,r)=>{
    const t=txt(g,893,y0+r*h+h/2+5,n,14,{'text-anchor':'end'});
    
    
  });
  mGenes.forEach((n,c)=>{
    const t=txt(g,0,0,n,14,{'text-anchor':'end',transform:'translate('+(x0+c*w+w/2+5)+',1505) rotate(-90)'});
    
    
  });
})();
</script>
</body></html>
